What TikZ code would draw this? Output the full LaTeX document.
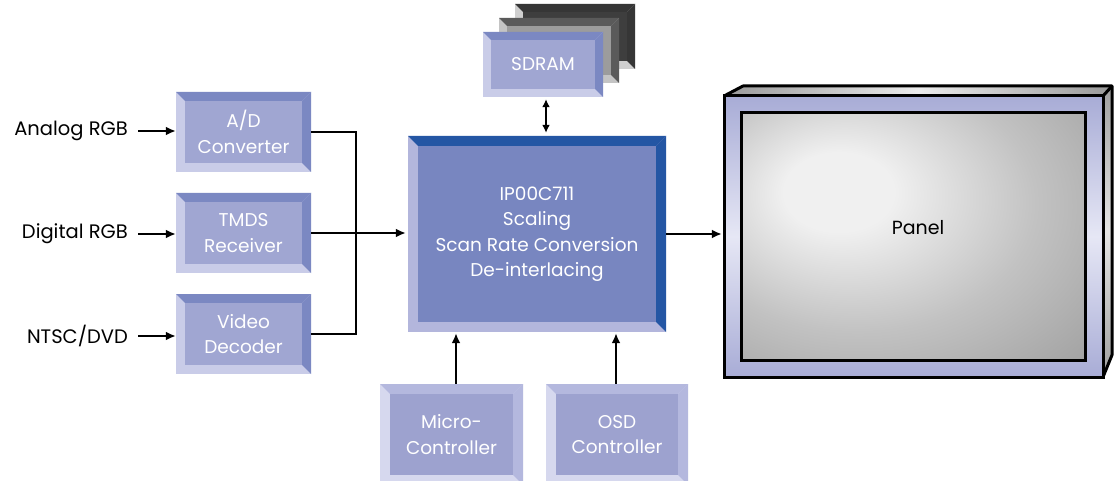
\documentclass[tikz,border=0pt]{standalone}
\usepackage{fontspec}
\setmainfont{Poppins}
\usetikzlibrary{arrows.meta,calc}
\definecolor{aF}{HTML}{A0A6D2}\definecolor{aD}{HTML}{7B88C2}\definecolor{aL}{HTML}{C9CCE8}
\definecolor{mF}{HTML}{7886C0}\definecolor{mD}{HTML}{2456A4}\definecolor{mL}{HTML}{B3B6DC}
\definecolor{bF}{HTML}{9DA2CF}\definecolor{bD}{HTML}{B4B8DE}\definecolor{bL}{HTML}{D6D8EE}
\definecolor{g1F}{HTML}{3E3E3E}\definecolor{g1D}{HTML}{363636}\definecolor{g1L}{HTML}{CFCFCF}
\definecolor{g2F}{HTML}{9C9C9C}\definecolor{g2D}{HTML}{5A5A5A}\definecolor{g2L}{HTML}{C4C4C4}
\definecolor{frD}{HTML}{A8ACD6}\definecolor{frL}{HTML}{E6E7F5}
\definecolor{scrL}{HTML}{F0F0F0}\definecolor{scrM}{HTML}{C2C2C2}\definecolor{scrD}{HTML}{A4A4A4}
\pgfdeclareradialshading{scr}{\pgfpoint{-12bp}{10bp}}{color(0bp)=(scrL); color(8bp)=(scrL); color(26bp)=(scrM); color(42bp)=(scrD); color(80bp)=(scrD)}
% #1 name #2 x1 #3 y1 #4 x2 #5 y2 #6 bevel #7 scheme prefix #8 text
\newcommand\bevbox[8]{%
  \fill[#7L] (#2,#3) rectangle (#4,#5);
  \fill[#7D] (#2,#3) -- (#4,#3) -- (#4-#6,#3+#6) -- (#2+#6,#3+#6) -- cycle;
  \fill[#7D] (#4,#3) -- (#4,#5) -- (#4-#6,#5-#6) -- (#4-#6,#3+#6) -- cycle;
  \fill[#7F] (#2+#6,#3+#6) rectangle (#4-#6,#5-#6);
  \node[boxtext, minimum width={(#4-#2)*1pt}, minimum height={(#5-#3)*1pt}] (#1) at ({(#2+#4)/2},{(#3+#5)/2}) {#8};}
\tikzset{
  boxtext/.style={inner sep=0pt, text=white, align=center, font=\fontsize{18.5}{25.5}\selectfont},
  lbl/.style={inner sep=0pt, anchor=east, font=\fontsize{19.5}{22}\selectfont},
  conn/.style={line width=2pt},
  arr/.style={conn, -{Latex[length=10pt,width=9pt]}},
  darr/.style={conn, {Latex[length=8pt,width=8pt]}-{Latex[length=8pt,width=8pt]}},
}
\begin{document}
\begin{tikzpicture}[x=1pt,y=-1pt]
\useasboundingbox[fill=white] (0,0) rectangle (1116,481);
% input boxes
\bevbox{ad}{176}{92}{311}{172}{9}{a}{A/D\\Converter}
\bevbox{tm}{176}{193}{311}{273}{9}{a}{TMDS\\Receiver}
\bevbox{vd}{176}{294}{311}{374}{9}{a}{Video\\Decoder}
% SDRAM stack
\bevbox{sd3}{515}{4}{635}{69}{8}{g1}{}
\bevbox{sd2}{499}{18}{619}{83}{8}{g2}{}
\bevbox{sd}{483}{32}{603}{97}{8}{a}{SDRAM}
% main
\bevbox{main}{408}{136}{666}{332}{10}{m}{IP00C711\\Scaling\\Scan Rate Conversion\\De-interlacing}
% bottom boxes
\bevbox{mc}{380}{384}{523}{485}{10}{b}{Micro-\\Controller}
\bevbox{osd}{546}{384}{688}{485}{10}{b}{OSD\\Controller}
% panel
\shade[left color=gray!80, right color=gray!80, middle color=gray!15] (724,96) -- (743,86) -- (1112,86) -- (1103,96) -- cycle;
\shade[top color=gray!75, bottom color=gray!75, middle color=gray!20] (1103,96) -- (1112,86) -- (1112,355) -- (1103,377) -- cycle;
\draw[line width=3pt, line join=round] (724,96) -- (743,86) -- (1112,86) -- (1112,355) -- (1103,377);
\draw[line width=3pt] (1103,96) -- (1112,86);
\shade[top color=frD, bottom color=frD, middle color=frL, draw=black, line width=3pt] (724,96) rectangle (1103,377);
\node[inner sep=0pt, minimum width=379pt, minimum height=281pt] (panel) at (913.5,236.5) {};
\shade[shading=scr, draw=black, line width=3pt] (741,113) rectangle (1085,360);
\node[font=\fontsize{19}{22}\selectfont, inner sep=0pt] (ptxt) at (918,228) {Panel};
% labels
\node[lbl] (la) at (128,131) {Analog RGB};
\node[lbl] (lb) at (128,234) {Digital RGB};
\node[lbl] (lc) at (128,336) {NTSC/DVD};
% connectors
\draw[arr, shorten <=10pt] (la.east) -- (la.east -| ad.west);
\draw[arr, shorten <=10pt] (lb.east) -- (lb.east -| tm.west);
\draw[arr, shorten <=10pt] (lc.east) -- (lc.east -| vd.west);
\draw[conn] (ad.east) -- ++(45,0) |- (vd.east);
\draw[arr, shorten >=2pt] (tm.east) -- (tm.east -| main.west);
\coordinate (sx) at (546,0);
\draw[darr, shorten <=2pt, shorten >=3pt] (sd.south -| sx) -- (main.north -| sx);
\coordinate (mx) at (456,0);
\draw[arr, shorten >=1pt] (mc.north -| mx) -- (main.south -| mx);
\coordinate (ox) at (616,0);
\draw[arr, shorten >=1pt] (osd.north -| ox) -- (main.south -| ox);
\draw[arr, shorten >=2pt] (main.east) -- (panel.west |- main.east);
\end{tikzpicture}
\end{document}
